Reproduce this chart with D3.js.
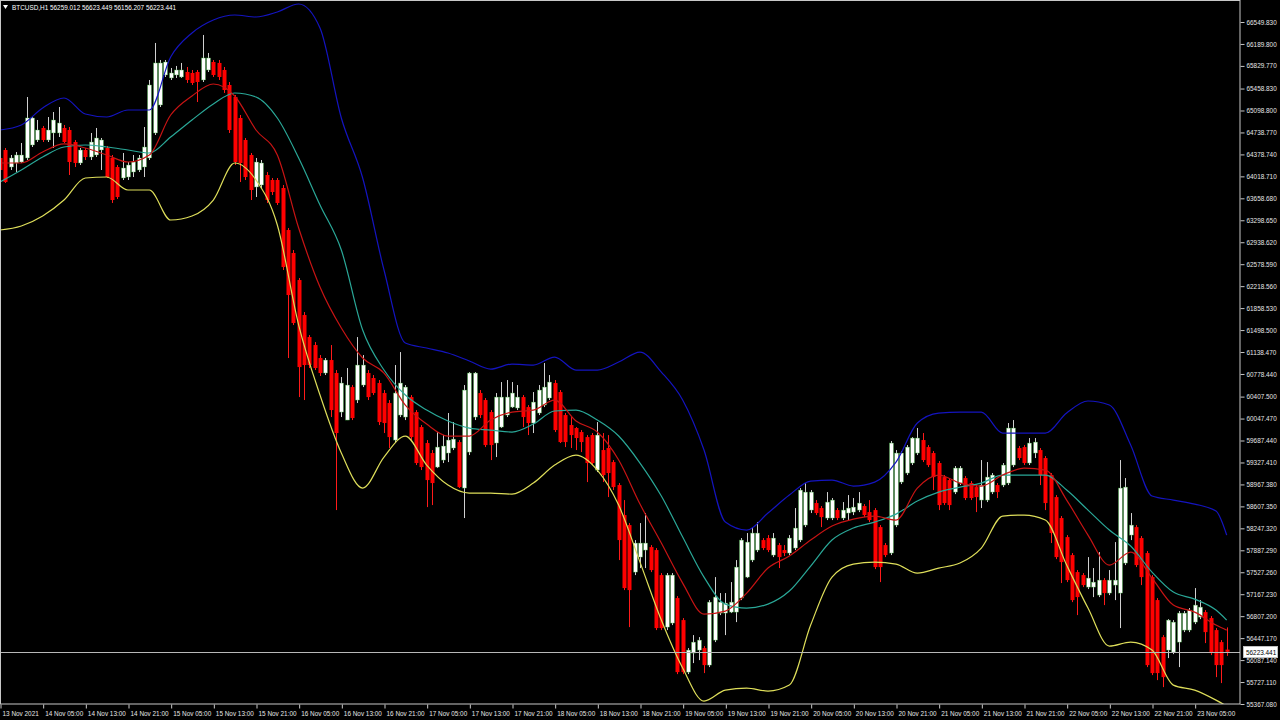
<!DOCTYPE html>
<html><head><meta charset="utf-8">
<script src="https://cdn.jsdelivr.net/npm/d3@7"></script>
<style>html,body{margin:0;background:#000;overflow:hidden}</style>
</head><body><svg id="c" width="1280" height="720"></svg>
<script>
// ---- DATA ----
const symbolTitle = "BTCUSD,H1 56259.012 56623.449 56156.207 56223.441";
const bidPrice = 56223.441;
const bidLabel = "56223.441";
const priceTicks = ["66549.830","66189.800","65829.770","65458.830","65098.800","64738.770","64378.740","64018.710","63658.680","63298.650","62938.620","62578.590","62218.560","61858.530","61498.500","61138.470","60778.440","60407.500","60047.470","59687.440","59327.410","58967.380","58607.350","58247.320","57887.290","57527.260","57167.230","56807.200","56447.170","56087.140","55727.110","55367.080"];
const timeTickIdx = [0,8,16,24,32,40,48,56,64,72,80,88,96,104,112,120,128,136,144,152,160,168,176,184,192,200,208,216,224];
const timeTicks = ["13 Nov 2021","14 Nov 05:00","14 Nov 13:00","14 Nov 21:00","15 Nov 05:00","15 Nov 13:00","15 Nov 21:00","16 Nov 05:00","16 Nov 13:00","16 Nov 21:00","17 Nov 05:00","17 Nov 13:00","17 Nov 21:00","18 Nov 05:00","18 Nov 13:00","18 Nov 21:00","19 Nov 05:00","19 Nov 13:00","19 Nov 21:00","20 Nov 05:00","20 Nov 13:00","20 Nov 21:00","21 Nov 05:00","21 Nov 13:00","21 Nov 21:00","22 Nov 05:00","22 Nov 13:00","22 Nov 21:00","23 Nov 05:00"];

const open = [64320,64451,64172,64238,64254,64320,64533,64615,64812,64615,
64730,64730,64812,64779,64582,64238,64451,64336,64369,64451,
64484,64320,64172,63992,64008,64090,64123,64172,64320,64730,
65189,65681,65632,65681,65648,65730,65714,65730,65599,65763,
65894,65878,65763,65517,65320,64976,64615,64369,63844,63877,
64041,63959,63959,63828,63139,62762,62319,61745,61384,61253,
61040,60794,61007,60794,60154,60023,60564,60351,60597,60794,
60712,60630,60466,60302,59695,60105,60072,60400,60154,59908,
59646,59482,59252,59367,59482,59564,59662,58908,59498,60072,
60466,60351,60154,59646,59908,60105,60236,60220,60400,60236,
59974,60138,60269,60384,60630,60482,60105,59941,59892,59826,
59744,59777,59203,59531,59564,59334,58957,58465,58301,57530,
57776,57891,57940,57891,57481,56628,56694,57104,56743,55890,
56202,56251,56284,56005,56415,56858,56858,56874,56874,57104,
57448,57727,57891,58055,58088,57809,57973,57891,57842,57924,
58055,58301,58547,58662,58580,58416,58416,58547,58416,58498,
58514,58547,58613,58514,58547,58268,57973,57842,58301,59006,
59154,59318,59482,59695,59580,59482,59318,59088,59039,58842,
58990,59072,58990,58924,58711,58711,58842,58957,58957,58990,
59285,59564,59580,59318,59482,59531,59400,59121,58760,58416,
58104,57809,57530,57481,57284,57284,57153,57399,57186,57317,
57186,57678,58137,58268,58088,57842,57448,57071,56464,56251,
56218,56382,56579,56579,56710,56792,56874,56776,56579,56382,
56259.012];
const high = [64418,64484,64369,64418,64566,65320,64992,64943,64845,64992,
65074,65156,64861,64828,64615,64484,64484,64730,64812,64648,
64517,64369,64205,64402,64254,64369,64369,64828,65599,66206,
65927,65927,65796,65829,65878,65812,65763,65763,66337,66042,
65927,65927,65812,65566,65353,65025,64648,64402,64320,64287,
64090,63992,63992,63877,63172,62811,62352,61794,61417,61302,
61089,61040,61253,60843,60728,60876,60597,61384,61089,60843,
60761,60679,60515,60351,60925,61138,60597,60433,60187,59941,
59695,59531,59826,59777,60138,59990,59695,60597,60810,60810,
60515,60384,60187,60466,60646,60679,60646,60597,60433,60269,
60482,60597,60958,60761,60679,60515,60138,60072,59908,59859,
59777,59810,59990,59810,59777,59367,58990,58711,58334,58055,
58334,58498,57973,57924,57514,57514,57514,57137,56776,56284,
56497,56464,56317,57071,57448,57186,57186,57366,57727,58088,
58170,58268,58350,58088,58137,58170,58006,57973,58137,58580,
58908,58990,58875,58711,58613,58842,58744,58580,58678,58793,
58744,58842,58645,58711,58580,58301,58006,59679,59531,59515,
59613,59744,59892,59810,59613,59515,59351,59121,59072,59269,
59269,59105,59023,58957,59367,59334,59154,58990,59318,59974,
60023,59597,59613,59728,59728,59564,59433,59154,58793,58449,
58137,57842,57563,57514,57776,57596,57858,57432,57563,58022,
59367,59072,58498,58301,58121,57875,57481,57104,56497,56759,
56743,56891,56891,56940,57268,57071,56907,56809,56612,56415,
56623.449];
const low = [64041,63910,64123,64090,64238,64287,64500,64582,64582,64582,
64484,64664,64566,64041,64172,64205,64287,64287,64336,64123,
63992,63582,63647,63959,63959,64008,64090,64008,64287,64697,
65156,65648,65599,65632,65632,65550,65517,65238,65566,65730,
65648,65599,65386,64730,64205,63926,63959,63631,63680,63828,
63582,63713,63549,62483,61040,61581,60400,60351,60876,60843,
60745,60761,60072,58547,60072,60023,60023,60302,60564,60351,
60433,59941,59810,59564,59646,60072,60023,59695,59285,59203,
58596,58629,59236,59318,59334,59531,58908,58416,59449,60023,
60056,59580,59367,59416,59892,60072,60220,60187,59908,59777,
59810,60105,60236,60351,59826,59646,59580,59564,59531,59498,
59006,59285,59170,59006,58760,58875,57727,57235,56628,57481,
57596,57596,57530,56579,56579,56579,56661,55857,55857,55857,
56038,56087,55874,55972,56382,56825,56497,56858,56710,57071,
57432,57694,57858,57891,57858,57776,57596,57793,57809,57891,
58022,58268,58498,58465,58268,58383,58383,58383,58383,58383,
58465,58514,58432,58350,57579,57366,57776,57809,58268,58973,
59121,59285,59449,59334,59252,58875,58547,58629,58547,58809,
58957,58711,58711,58514,58580,58678,58809,58744,58924,58957,
59252,59367,59285,59285,59400,58957,58547,58006,57743,57350,
57366,57038,56825,57284,57251,57120,57120,56989,57153,57071,
56612,57645,58055,57612,57317,55972,55841,55759,55644,56120,
56185,55972,56546,56546,56677,56759,56366,56169,55808,55710,
56156.207];
const close = [64123,63926,64320,64369,64369,64976,64976,64779,64615,64779,
64943,64894,64582,64254,64238,64451,64336,64582,64648,64615,
64008,63631,63680,64156,64205,64254,64320,64500,65517,65878,
65878,65894,65714,65763,65763,65599,65550,65566,65960,65960,
65681,65648,65435,64779,64254,64238,64008,63795,64254,64238,
63631,63762,63582,62532,62073,61614,60892,60925,60925,60876,
60794,61007,60187,59810,60630,60597,60056,60925,60925,60400,
60466,59990,59974,59744,60466,60630,60564,59744,59318,59252,
59039,58990,59580,59597,59695,59711,58924,60515,60794,60794,
60105,59613,59613,60400,60400,60400,60466,60400,60072,59974,
60318,60515,60564,60646,59859,59662,59662,59777,59728,59662,
59318,59318,59777,59121,59154,58924,58055,57268,57235,58006,
58006,58006,57563,56612,56612,57481,57481,55890,55890,56251,
56382,56415,56005,57038,57120,57038,57022,57038,57612,58055,
58022,58170,58170,57924,57891,58088,57776,57842,58088,58252,
58875,58842,58842,58498,58432,58678,58711,58416,58547,58580,
58596,58662,58465,58383,57612,57612,57809,59646,59482,59482,
59580,59728,59728,59367,59285,59088,58629,58662,58629,59236,
59236,58744,58744,58760,58957,59088,59121,58842,59285,59892,
59892,59400,59318,59646,59662,59121,58662,58170,57776,57694,
57399,57071,57120,57317,57432,57366,57399,57186,57399,57399,
58908,58924,58301,57645,57448,56005,55874,55874,55808,56743,
56710,56858,56858,56907,56989,56956,56546,56202,56005,56005,
56223.441];

// indicator readings, one every 4 bars
const lineIdx = [0,4,8,12,16,20,24,28,32,36,40,44,48,52,56,60,64,68,72,76,80,84,88,92,96,100,104,108,112,116,120,124,128,132,136,140,144,148,152,156,160,164,168,172,176,180,184,188,192,196,200,204,208,212,216,220,224,228,230];
const upperBand = [64779,64861,65140,65304,65041,64992,65107,65107,65976,66370,66583,66665,66632,66714,66845,66452,64976,63992,62483,61286,61204,61122,60991,60859,60941,60925,61056,60843,60843,60974,61138,60810,60351,59531,58350,58219,58498,58793,59023,59039,58941,59006,59334,59974,60138,60154,60154,59810,59810,59810,60138,60335,60269,59613,58777,58711,58645,58531,58137];
const middleBand = [63926,64123,64336,64500,64533,64500,64451,64402,64664,64943,65205,65386,65320,64976,64320,63549,62811,61499,60843,60433,60187,60007,59892,59859,59826,59957,60171,60187,60023,59761,59318,58777,58104,57448,57005,56940,57005,57219,57629,58055,58252,58350,58481,58695,58842,58924,58990,59121,59121,59121,58875,58547,58219,57957,57530,57202,57087,56907,56743];
const fastMA = [64238,64238,64418,64550,64484,64369,64254,64369,65025,65337,65533,65337,64779,64369,63172,62204,61532,61040,60794,60269,59957,59761,59761,60023,60154,60187,60351,60007,59826,59367,58645,58006,57350,56841,56891,57186,57596,57793,58055,58285,58399,58449,58383,58908,59121,58990,58941,59121,59236,59203,58711,58137,57645,57858,57432,56989,56874,56661,56579];
const lowerBand = [63139,63205,63369,63631,63992,64008,63795,63795,63303,63369,63631,64238,63959,63221,61581,60433,59482,58908,59416,59761,59285,58957,58826,58826,58809,58990,59285,59449,59203,58629,57694,56743,55956,55415,55595,55628,55579,55677,56661,57448,57662,57694,57662,57514,57596,57678,57924,58449,58465,58383,57645,56940,56317,56382,56251,55677,55595,55431,55333];

// ---- DRAW ----
const svg = d3.select("#c");
const PR = 1240, PB = 704;
const FONT = "'Liberation Sans',Arial,sans-serif";
const FS = "6.4px";
svg.append("rect").attr("width",1280).attr("height",720).attr("fill","#000");

const x = d3.scaleLinear().domain([0,232.5]).range([0,PR]);
const y = d3.scaleLinear().domain([55367.08,66549.83]).range([PB,22]);

svg.append("defs").append("clipPath").attr("id","plot")
  .append("rect").attr("x",0).attr("y",0).attr("width",PR).attr("height",PB);
const plot = svg.append("g").attr("clip-path","url(#plot)");

const bars = d3.range(open.length);
const cx = i => Math.round(x(i));
// wicks
plot.append("g").selectAll("line").data(bars).join("line")
  .attr("x1",i=>cx(i)+0.5).attr("x2",i=>cx(i)+0.5)
  .attr("y1",i=>y(high[i])).attr("y2",i=>y(low[i]))
  .attr("stroke",i=>close[i]>=open[i]?"#d0d0d0":"#ff1a1a").attr("stroke-width",1);
// bodies
plot.append("g").selectAll("rect").data(bars).join("rect")
  .attr("x",i=>cx(i)-1.5).attr("width",4)
  .attr("y",i=>Math.min(y(open[i]),y(close[i])))
  .attr("height",i=>Math.max(1,Math.abs(y(open[i])-y(close[i]))))
  .attr("fill",i=>close[i]>=open[i]?"#ffffff":"#ff0000")
  .attr("stroke",i=>close[i]>=open[i]?"#2f9f2f":"none")
  .attr("stroke-width",0.4);

// indicator lines
function drawLine(vals,color){
  const ln = d3.line().x((d,k)=>x(lineIdx[k])).y(d=>y(d)).curve(d3.curveMonotoneX);
  plot.append("path").datum(vals).attr("d",ln).attr("fill","none")
    .attr("stroke",color).attr("stroke-width",1.2);
}
drawLine(upperBand,"#1414c0");
drawLine(lowerBand,"#dede5a");
drawLine(middleBand,"#2aa898");
drawLine(fastMA,"#c81414");

// bid line
svg.append("line").attr("x1",0).attr("x2",PR).attr("y1",Math.round(y(bidPrice))+0.5).attr("y2",Math.round(y(bidPrice))+0.5)
  .attr("stroke","#b8b8b8").attr("stroke-width",1);

// frame
svg.append("rect").attr("x",0.5).attr("y",0.5).attr("width",PR-0.5).attr("height",PB-0.5)
  .attr("fill","none").attr("stroke","#c8c8c8").attr("stroke-width",1);

// right axis
const ya = svg.append("g").attr("transform",`translate(${PR+0.5},0)`)
  .call(d3.axisRight(y).tickValues(priceTicks.map(Number)).tickFormat((d,i)=>priceTicks[i]).tickSize(4).tickSizeOuter(0).tickPadding(2));
ya.select(".domain").remove();
ya.selectAll("line").attr("stroke","#c8c8c8");
ya.selectAll("text").attr("fill","#e6e6e6").style("font-family",FONT).style("font-size",FS);

// bid label
const by = Math.round(y(bidPrice));
svg.append("rect").attr("x",PR+3.5).attr("y",by-5.5).attr("width",34).attr("height",11)
  .attr("fill","#ffffff").attr("stroke","#c0c0c0");
svg.append("text").attr("x",PR+6).attr("y",by+2.5).text(bidLabel)
  .attr("fill","#000").style("font-family",FONT).style("font-size",FS);

// bottom axis
const xa = svg.append("g").attr("transform",`translate(0,${PB+0.5})`)
  .call(d3.axisBottom(x).tickValues(timeTickIdx).tickFormat((d,i)=>timeTicks[i]).tickSize(4).tickSizeOuter(0));
xa.select(".domain").remove();
xa.selectAll("line").attr("stroke","#c8c8c8").attr("transform","translate(0.5,0)");
xa.selectAll("text").attr("y",11).attr("dy",0).attr("x",2).style("text-anchor","start")
  .attr("fill","#e6e6e6").style("font-family",FONT).style("font-size",FS);

// title
svg.append("path").attr("d","M3,5 L8,5 L5.5,9 Z").attr("fill","#ffffff");
svg.append("text").attr("x",12).attr("y",10).text(symbolTitle)
  .attr("fill","#ffffff").style("font-family",FONT).style("font-size",FS);
</script>
</body></html>
